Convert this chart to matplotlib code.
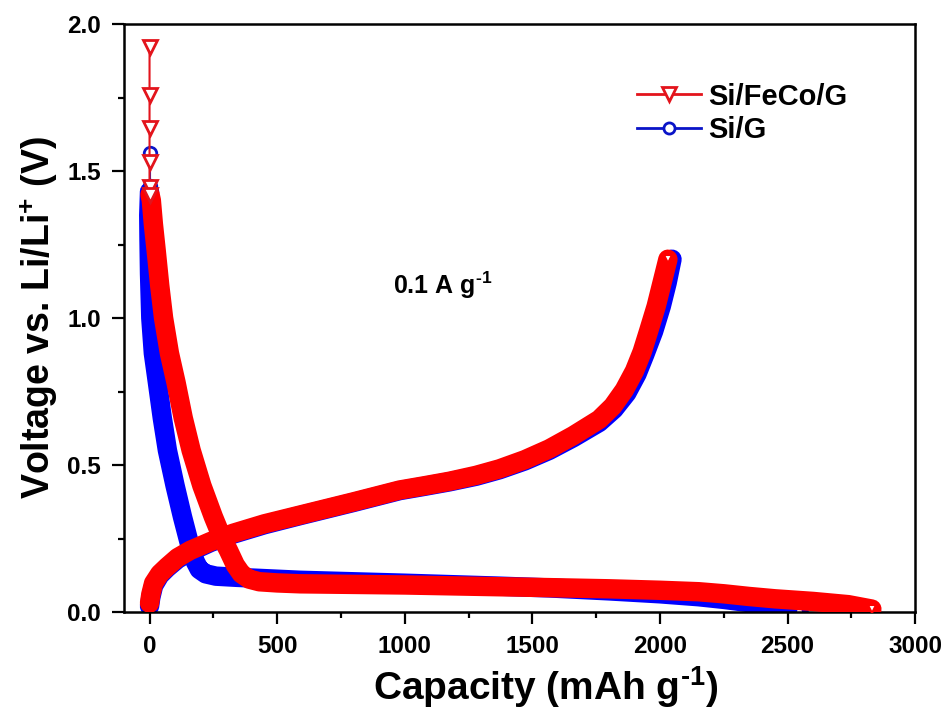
import numpy as np
import matplotlib
matplotlib.use('Agg')
import matplotlib.pyplot as plt
from matplotlib.lines import Line2D
from matplotlib.ticker import MultipleLocator

plt.rcParams['font.family'] = 'Liberation Sans'
plt.rcParams['font.weight'] = 'bold'
plt.rcParams['mathtext.fontset'] = 'custom'
plt.rcParams['mathtext.rm'] = 'Liberation Sans:bold'
plt.rcParams['mathtext.bf'] = 'Liberation Sans:bold'

# Si/FeCo/G - descarga (puntos sueltos arriba + banda densa)
rojo_desc_top_cap = [0, 0, 0, 0, 0, 2]
rojo_desc_top_v = [1.923, 1.758, 1.646, 1.532, 1.447, 1.42]
rojo_desc_cap = [2, 7, 15, 26, 40, 55, 78, 104, 132, 163, 205, 250, 285, 309, 336, 360,
                 390, 430, 500, 590, 1000, 1371, 1566, 1800, 2000, 2152, 2250, 2348,
                 2450, 2600, 2738, 2830]
rojo_desc_v = [1.42, 1.40, 1.32, 1.23, 1.11, 1.00, 0.88, 0.78, 0.66, 0.55, 0.43, 0.324,
               0.25, 0.21, 0.16, 0.13, 0.112, 0.103, 0.099, 0.096, 0.092, 0.086, 0.083,
               0.079, 0.074, 0.069, 0.062, 0.053, 0.045, 0.036, 0.025, 0.01]

# Si/FeCo/G - carga
rojo_carga_cap = [0, 5, 16, 40, 69, 110, 160, 240, 328, 450, 590, 800, 980, 1080, 1176,
                  1280, 1371, 1470, 1566, 1660, 1762, 1815, 1860, 1900, 1930, 1957,
                  1985, 2008, 2031]
rojo_carga_v = [0.03, 0.06, 0.098, 0.13, 0.154, 0.185, 0.21, 0.24, 0.268, 0.30, 0.33,
                0.375, 0.415, 0.43, 0.445, 0.465, 0.487, 0.518, 0.555, 0.60, 0.655,
                0.70, 0.755, 0.82, 0.885, 0.96, 1.04, 1.12, 1.20]

# Si/G - descarga
azul_desc_top_cap = [0, 0, 0]
azul_desc_top_v = [1.56, 1.45, 1.43]
azul_desc_cap = [0, -3, -2, 0, 5, 15, 31, 50, 70, 100, 129, 163, 180, 195, 220, 260,
                 342, 590, 1000, 1371, 1566, 1800, 2000, 2152, 2250, 2348, 2450, 2545]
azul_desc_v = [1.43, 1.35, 1.265, 1.15, 1.0, 0.88, 0.78, 0.66, 0.55, 0.43, 0.324, 0.21,
               0.17, 0.145, 0.13, 0.122, 0.118, 0.108, 0.098, 0.088, 0.082, 0.072,
               0.062, 0.052, 0.043, 0.032, 0.018, 0.005]

# Si/G - carga
azul_carga_cap = [0, 5, 16, 40, 69, 110, 160, 240, 328, 450, 590, 800, 980, 1080, 1176,
                  1280, 1371, 1470, 1566, 1660, 1762, 1820, 1870, 1910, 1940, 1975,
                  2005, 2028, 2047]
azul_carga_v = [0.02, 0.05, 0.09, 0.125, 0.15, 0.18, 0.205, 0.237, 0.265, 0.297, 0.328,
                0.373, 0.413, 0.428, 0.443, 0.462, 0.484, 0.514, 0.55, 0.593, 0.645,
                0.69, 0.745, 0.81, 0.875, 0.955, 1.04, 1.12, 1.20]

rojo = '#ff0000'
rojo_borde = '#e3141c'
azul = '#0000ff'
azul_borde = '#0a14c8'
banda = 14

fig = plt.figure(figsize=(9.51, 7.11), dpi=100)
ax = fig.add_axes([0.1304, 0.1392, 0.832, 0.8270])

# Si/G
ax.plot(azul_desc_cap, azul_desc_v, color=azul, lw=banda, solid_capstyle='round', zorder=2)
ax.plot(azul_carga_cap, azul_carga_v, color=azul, lw=banda, solid_capstyle='round', zorder=2)
ax.plot(azul_desc_top_cap, azul_desc_top_v, color=azul_borde, lw=1.5, marker='o', ms=9,
        mfc='white', mec=azul_borde, mew=2, zorder=2)
ax.plot([azul_desc_cap[-1], azul_carga_cap[-1]], [azul_desc_v[-1], azul_carga_v[-1]],
        ls='none', marker='o', ms=5, mfc='white', mec=azul, mew=1.5, zorder=2)

# Si/FeCo/G
ax.plot(rojo_desc_cap, rojo_desc_v, color=rojo, lw=banda, solid_capstyle='round', zorder=3)
ax.plot(rojo_carga_cap, rojo_carga_v, color=rojo, lw=banda, solid_capstyle='round', zorder=3)
ax.plot(rojo_desc_top_cap, rojo_desc_top_v, color=rojo_borde, lw=1.5, marker='v', ms=10,
        mfc='white', mec=rojo_borde, mew=2, zorder=3)
ax.plot([rojo_desc_cap[-1], rojo_carga_cap[-1]], [rojo_desc_v[-1], rojo_carga_v[-1]],
        ls='none', marker='v', ms=6, mfc='white', mec=rojo, mew=1.5, zorder=3)

ax.set_xlim(-100, 3000)
ax.set_ylim(0, 2.0)
ax.xaxis.set_major_locator(MultipleLocator(500))
ax.xaxis.set_minor_locator(MultipleLocator(250))
ax.yaxis.set_major_locator(MultipleLocator(0.5))
ax.yaxis.set_minor_locator(MultipleLocator(0.25))
ax.yaxis.set_major_formatter(matplotlib.ticker.FormatStrFormatter('%.1f'))
ax.tick_params(which='major', direction='out', length=8.5, width=1.6, labelsize=17.5, pad=8)
ax.tick_params(which='minor', direction='out', length=4.5, width=1.6)
ax.tick_params(top=False, right=False)
for s in ax.spines.values():
    s.set_linewidth(1.8)

ax.set_xlabel(r'Capacity (mAh g$^{\text{-1}}$)', fontsize=28, fontweight='bold')
ax.xaxis.set_label_coords(0.533, -0.088)
ax.set_ylabel('Voltage vs. Li/Li$^{+}$ (V)', fontsize=27, fontweight='bold', labelpad=5)
ax.text(1150, 1.11, r'0.1 A g$^{\text{-1}}$', fontsize=18, fontweight='bold', ha='center', va='center')

manijas = [Line2D([0], [0], color=rojo_borde, lw=2, marker='v', ms=10, mfc='white', mec=rojo_borde, mew=2),
           Line2D([0], [0], color=azul_borde, lw=2, marker='o', ms=8, mfc='white', mec=azul_borde, mew=2)]
ax.legend(manijas, ['Si/FeCo/G', 'Si/G'], loc='upper left', bbox_to_anchor=(0.615, 0.945),
          frameon=False, fontsize=21, handlelength=2.2, handletextpad=0.25, labelspacing=0.2)

plt.savefig('out.png', dpi=100)
